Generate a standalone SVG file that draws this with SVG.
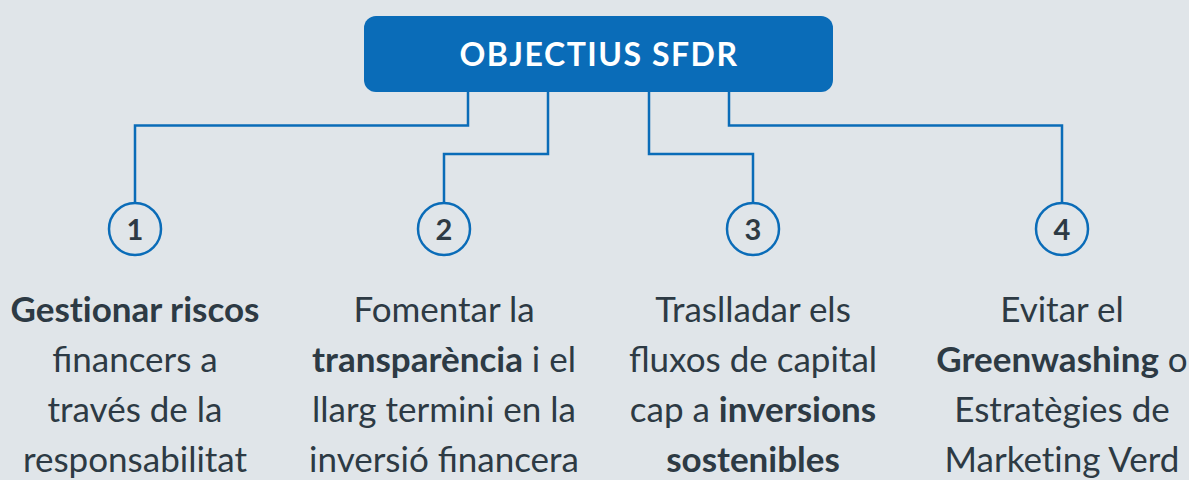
<svg xmlns="http://www.w3.org/2000/svg" width="1189" height="480" viewBox="0 0 1189 480">
<style>
.bg{fill:#e0e5e9}
.title{fill:#0a6cb8}
.tt{font-family:Lato,"Liberation Sans",sans-serif;font-weight:700;font-size:32px;letter-spacing:1.5px;fill:#ffffff;text-anchor:middle}
.conn{fill:none;stroke:#0a6cb8;stroke-width:2.5}
.circ{fill:none;stroke:#0a6cb8;stroke-width:2.5}
.num{font-family:Lato,"Liberation Sans",sans-serif;font-weight:700;font-size:29px;fill:#2d3a44;text-anchor:middle}
.lbl{font-family:Lato,"Liberation Sans",sans-serif;font-size:35px;fill:#2d3a44;text-anchor:middle}
.b{font-weight:700}
</style>
<rect class="bg" x="0" y="0" width="1189" height="480"/>
<g id="connectors">
<path class="conn" d="M468 92 V125.5 H135 V203"/>
<path class="conn" d="M548 92 V154 H444 V203"/>
<path class="conn" d="M649 92 V154 H753 V203"/>
<path class="conn" d="M729 92 V125.5 H1062 V203"/>
</g>
<g id="title">
<rect class="title" x="364" y="16" width="469" height="76" rx="12"/>
<text class="tt" x="599" y="66">OBJECTIUS SFDR</text>
</g>
<g id="node1">
<circle class="circ" cx="135" cy="229" r="26"/>
<text class="num" x="135" y="240">1</text>
<text class="lbl" x="135" y="322"><tspan class="b">Gest&#8204;ionar riscos</tspan></text>
<text class="lbl" x="135" y="372">financers a</text>
<text class="lbl" x="135" y="422">través de la</text>
<text class="lbl" x="135" y="472">responsabilitat</text>
</g>
<g id="node2">
<circle class="circ" cx="444" cy="229" r="26"/>
<text class="num" x="444" y="240">2</text>
<text class="lbl" x="444" y="322">Fomentar la</text>
<text class="lbl" x="444" y="372"><tspan class="b">transparència</tspan> i el</text>
<text class="lbl" x="444" y="422">llarg termini en la</text>
<text class="lbl" x="444" y="472">inversió financera</text>
</g>
<g id="node3">
<circle class="circ" cx="753" cy="229" r="26"/>
<text class="num" x="753" y="240">3</text>
<text class="lbl" x="753" y="322">Traslladar els</text>
<text class="lbl" x="753" y="372">fluxos de capital</text>
<text class="lbl" x="753" y="422">cap a <tspan class="b">inversions</tspan></text>
<text class="lbl" x="753" y="472"><tspan class="b">sostenibles</tspan></text>
</g>
<g id="node4">
<circle class="circ" cx="1062" cy="229" r="26"/>
<text class="num" x="1062" y="240">4</text>
<text class="lbl" x="1062" y="322">Evitar el</text>
<text class="lbl" x="1062" y="372"><tspan class="b">Greenwashing</tspan> o</text>
<text class="lbl" x="1062" y="422">Estratègies de</text>
<text class="lbl" x="1062" y="472">Market&#8204;ing Verd</text>
</g>
</svg>
